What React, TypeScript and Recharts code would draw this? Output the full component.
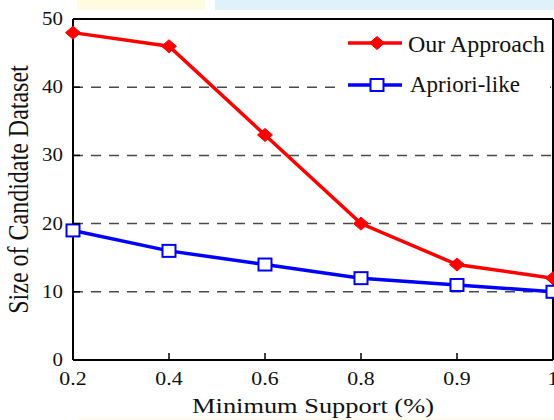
import { LineChart, Line, XAxis, YAxis, CartesianGrid, Legend, ReferenceLine } from 'recharts'

const supports = ['0.2', '0.4', '0.6', '0.8', '0.9', '1']
const ourApproach = [48, 46, 33, 20, 14, 12]
const aprioriLike = [19, 16, 14, 12, 11, 10]
const yTicks = [0, 10, 20, 30, 40, 50]
const seriesNames = ['Our Approach', 'Apriori-like']

const data = supports.map((s, i) => ({ support: s, ours: ourApproach[i], apriori: aprioriLike[i] }))

const font = '"Liberation Serif", "Times New Roman", serif'
const ink = '#111'

// the source figure is a bit stretched sideways, so text gets a scaleX
const XTick = (props: any) => {
  const { x, y, payload, index } = props
  return (
    <g>
      {index > 0 && index < supports.length - 1 && (
        <line x1={x} y1={y} x2={x} y2={y - 7} stroke="#000" strokeWidth={1.5} />
      )}
      <text transform={`translate(${x},${y + 25}) scale(1.15,1)`} textAnchor="middle" fontSize={19} fontFamily={font} fill={ink}>
        {payload.value}
      </text>
    </g>
  )
}

const YTick = (props: any) => {
  const { x, y, payload } = props
  return (
    <g>
      {payload.value > 0 && payload.value < 50 && (
        <line x1={x} y1={y} x2={x + 7} y2={y} stroke="#000" strokeWidth={1.5} />
      )}
      <text transform={`translate(${x - 10},${y + 6}) scale(1.1,1)`} textAnchor="end" fontSize={19} fontFamily={font} fill={ink}>
        {payload.value}
      </text>
    </g>
  )
}

const XLabel = (props: any) => {
  const { viewBox } = props
  const cx = viewBox.x + viewBox.width / 2
  return (
    <text transform={`translate(${cx},413) scale(1.2,1)`} textAnchor="middle" fontSize={22} fontFamily={font} fill={ink}>
      Minimum Support (%)
    </text>
  )
}

const YLabel = (props: any) => {
  const { viewBox } = props
  const cy = viewBox.y + viewBox.height / 2
  return (
    <text transform={`translate(28,${cy}) scale(1.25,1) rotate(-90)`} textAnchor="middle" fontSize={24} fontFamily={font} fill={ink}>
      Size of Candidate Dataset
    </text>
  )
}

const Diamond = (props: any) => {
  const { cx, cy } = props
  if (cx == null || cy == null) return null
  return <path d={`M${cx},${cy - 6.5}L${cx + 7.5},${cy}L${cx},${cy + 6.5}L${cx - 7.5},${cy}Z`} fill="#ff0000" stroke="#ff0000" />
}

const Square = (props: any) => {
  const { cx, cy } = props
  if (cx == null || cy == null) return null
  return <rect x={cx - 6.5} y={cy - 6} width={13} height={12} fill="#fff" stroke="#0000ff" strokeWidth={2} />
}

const LegendBox = () => (
  <svg width={208} height={78} style={{ display: 'block', background: '#fff' }}>
    <line x1={6} y1={21} x2={60} y2={21} stroke="#ff0000" strokeWidth={3.5} />
    <Diamond cx={35} cy={21} />
    <text x={66} y={30} fontSize={24} fontFamily={font} fill={ink}>{seriesNames[0]}</text>
    <line x1={6} y1={63} x2={60} y2={63} stroke="#0000ff" strokeWidth={3.5} />
    <Square cx={35} cy={63} />
    <text x={68} y={70} fontSize={23} fontFamily={font} fill={ink}>{seriesNames[1]}</text>
  </svg>
)

export default function App() {
  return (
    <div style={{ position: 'absolute', left: 0, top: 0, width: 554, height: 420, background: '#fff', overflow: 'hidden' }}>
      <div style={{ position: 'absolute', left: 77, top: 0, width: 128, height: 10, background: '#fffbe0' }} />
      <div style={{ position: 'absolute', left: 215, top: 0, width: 339, height: 10, background: '#dff2fb' }} />
      <div style={{ position: 'absolute', left: 78, top: 418, width: 476, height: 2, background: '#fffbe6' }} />
      <LineChart width={554} height={420} data={data} margin={{ top: 19, right: 1, left: 0, bottom: 0 }} style={{ position: 'absolute', left: 0, top: 0 }}>
        <CartesianGrid horizontal vertical={false} stroke="#4a4a4a" strokeWidth={1.5} strokeDasharray="10 8" />
        <XAxis
          dataKey="support"
          height={60}
          axisLine={{ stroke: '#000', strokeWidth: 2 }}
          tickLine={false}
          tickSize={0}
          tickMargin={0}
          tick={<XTick />}
          interval={0}
          label={<XLabel />}
        />
        <YAxis
          domain={[0, 50]}
          ticks={yTicks}
          width={73}
          axisLine={{ stroke: '#000', strokeWidth: 2 }}
          tickLine={false}
          tickSize={0}
          tickMargin={0}
          tick={<YTick />}
          label={<YLabel />}
        />
        <ReferenceLine y={50} stroke="#000" strokeWidth={2} />
        <ReferenceLine x="1" stroke="#000" strokeWidth={2} />
        <Legend
          layout="horizontal"
          verticalAlign="middle"
          align="center"
          content={<LegendBox />}
          wrapperStyle={{ top: 22, left: 342, width: 208, height: 78 }}
        />
        <Line dataKey="ours" name={seriesNames[0]} stroke="#ff0000" strokeWidth={3.5} dot={<Diamond />} isAnimationActive={false} />
        <Line dataKey="apriori" name={seriesNames[1]} stroke="#0000ff" strokeWidth={3.5} dot={<Square />} isAnimationActive={false} />
      </LineChart>
    </div>
  )
}
